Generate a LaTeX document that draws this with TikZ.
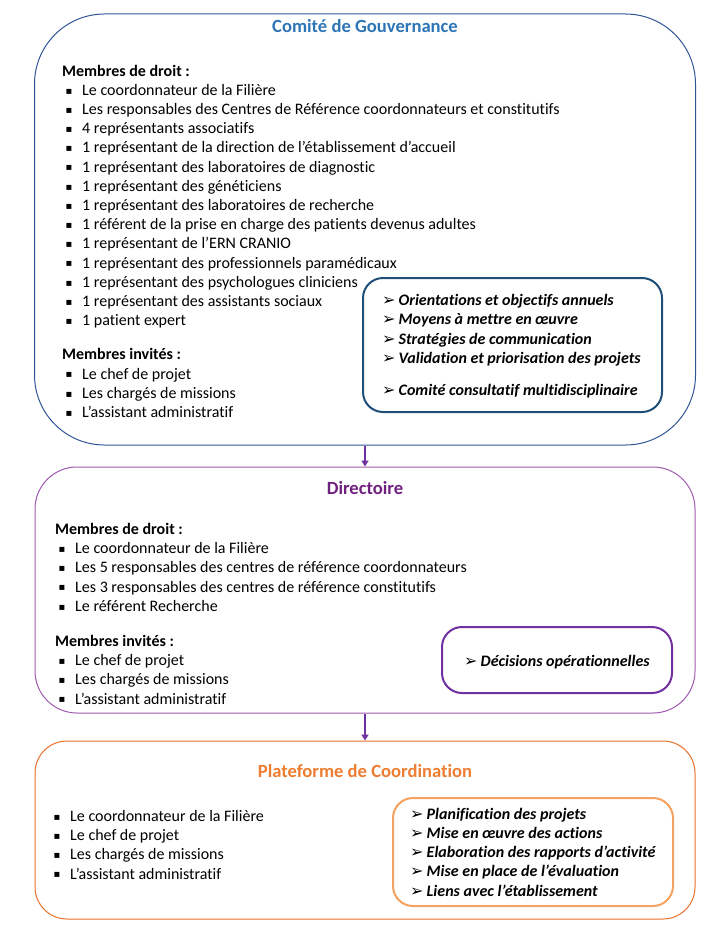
\documentclass[tikz,border=0pt]{standalone}
\usepackage{fontspec}
\setmainfont{Carlito}[Ligatures=NoCommon]
\newfontfamily\symb{DejaVu Sans}
\usepackage{xcolor}
\usepackage{tikz}
\usetikzlibrary{arrows.meta}

\definecolor{bleuTitre}{HTML}{2E75B6}
\definecolor{bleuCadre}{HTML}{2F5597}
\definecolor{bleuFonce}{HTML}{1F4E79}
\definecolor{violetTitre}{HTML}{70207F}
\definecolor{violetCadre}{HTML}{A05AAE}
\definecolor{violetFonce}{HTML}{7030A0}
\definecolor{orangeTitre}{HTML}{ED7D31}
\definecolor{orangeCadre}{HTML}{E8702A}
\definecolor{orangeClair}{HTML}{F4A261}

\newcommand{\puce}[1]{\makebox[20pt][l]{\hspace{3.5pt}\raisebox{1.2pt}{\symb\fontsize{10}{10}\selectfont ▪}}#1}
\newcommand{\fleche}[1]{\makebox[16.5pt][l]{\symb\fontsize{16}{16}\selectfont ➢}\textbf{\textit{#1}}}

\tikzset{
    grandcadre/.style={draw, line width=1pt, inner sep=0pt},
    petitcadre/.style={draw, line width=2pt, rounded corners=20pt, inner sep=0pt},
    titre/.style={anchor=base, font=\fontsize{18.6}{22}\selectfont\bfseries},
    liste/.style={anchor=base west, align=left, inner sep=0pt, font=\fontsize{16}{19.2}\selectfont},
    lien/.style={violetFonce, line width=2pt, -{Triangle[length=6pt,width=7pt]}}
}

\begin{document}
\begin{tikzpicture}[x=1pt,y=-1pt]
    % fix the size of the picture
    \useasboundingbox (0,0) rectangle (720,936);

    % draw the three big boxes
    \node[grandcadre, draw=bleuCadre, rounded corners=70pt, minimum width=661pt, minimum height=431pt] (gouv) at (365,229.5) {};
    \node[grandcadre, draw=violetCadre, rounded corners=42pt, minimum width=660pt, minimum height=246pt] (dir) at (365,590) {};
    \node[grandcadre, draw=orangeCadre, rounded corners=32pt, minimum width=660pt, minimum height=178pt] (plat) at (365,830) {};

    % draw the titles
    \node[titre, bleuTitre] (titreGouv) at (365,33) {Comité de Gouvernance};
    \node[titre, violetTitre] (titreDir) at (365,494) {Directoire};
    \node[titre, orangeTitre] (titrePlat) at (365,777) {Plateforme de Coordination};

    % draw the members of the first box
    \node[liste] (membresGouv) at (62,417.5) {\textbf{Membres de droit :}\\
        \puce{Le coordonnateur de la Filière}\\
        \puce{Les responsables des Centres de Référence coordonnateurs et constitutifs}\\
        \puce{4 représentants associatifs}\\
        \puce{1 représentant de la direction de l’établissement d’accueil}\\
        \puce{1 représentant des laboratoires de diagnostic}\\
        \puce{1 représentant des généticiens}\\
        \puce{1 représentant des laboratoires de recherche}\\
        \puce{1 référent de la prise en charge des patients devenus adultes}\\
        \puce{1 représentant de l’ERN CRANIO}\\
        \puce{1 représentant des professionnels paramédicaux}\\
        \puce{1 représentant des psychologues cliniciens}\\
        \puce{1 représentant des assistants sociaux}\\
        \puce{1 patient expert}\\[15pt]
        \textbf{Membres invités :}\\
        \puce{Le chef de projet}\\
        \puce{Les chargés de missions}\\
        \puce{L’assistant administratif}};

    % draw the members of the second box
    \node[liste] (membresDir) at (55,704) {\textbf{Membres de droit :}\\
        \puce{Le coordonnateur de la Filière}\\
        \puce{Les 5 responsables des centres de référence coordonnateurs}\\
        \puce{Les 3 responsables des centres de référence constitutifs}\\
        \puce{Le référent Recherche}\\[16pt]
        \textbf{Membres invités :}\\
        \puce{Le chef de projet}\\
        \puce{Les chargés de missions}\\
        \puce{L’assistant administratif}};

    % draw the members of the third box
    \node[liste] (membresPlat) at (50,879) {\puce{Le coordonnateur de la Filière}\\
        \puce{Le chef de projet}\\
        \puce{Les chargés de missions}\\
        \puce{L’assistant administratif}};

    % draw the small boxes with the missions
    \node[petitcadre, draw=bleuFonce, minimum width=299pt, minimum height=134pt] (missionsGouv) at (512.5,345) {};
    \node[petitcadre, draw=violetFonce, minimum width=230pt, minimum height=66pt] (missionsDir) at (557,660) {};
    \node[petitcadre, draw=orangeClair, minimum width=280pt, minimum height=108pt] (missionsPlat) at (533,852) {};

    \node[liste] (texteGouv) at (382,395) {\fleche{Orientations et objectifs annuels}\\
        \fleche{Moyens à mettre en œuvre}\\
        \fleche{Stratégies de communication}\\
        \fleche{Validation et priorisation des projets}\\[12.5pt]
        \fleche{Comité consultatif multidisciplinaire}};
    \node[liste] (texteDir) at (464,666) {\fleche{Décisions opérationnelles}};
    \node[liste] (textePlat) at (410,896) {\fleche{Planification des projets}\\
        \fleche{Mise en œuvre des actions}\\
        \fleche{Elaboration des rapports d’activité}\\
        \fleche{Mise en place de l’évaluation}\\
        \fleche{Liens avec l’établissement}};

    % draw the arrows between the boxes
    \draw[lien] (gouv.south) -- (dir.north);
    \draw[lien] (dir.south) -- (plat.north);

\end{tikzpicture}
\end{document}
